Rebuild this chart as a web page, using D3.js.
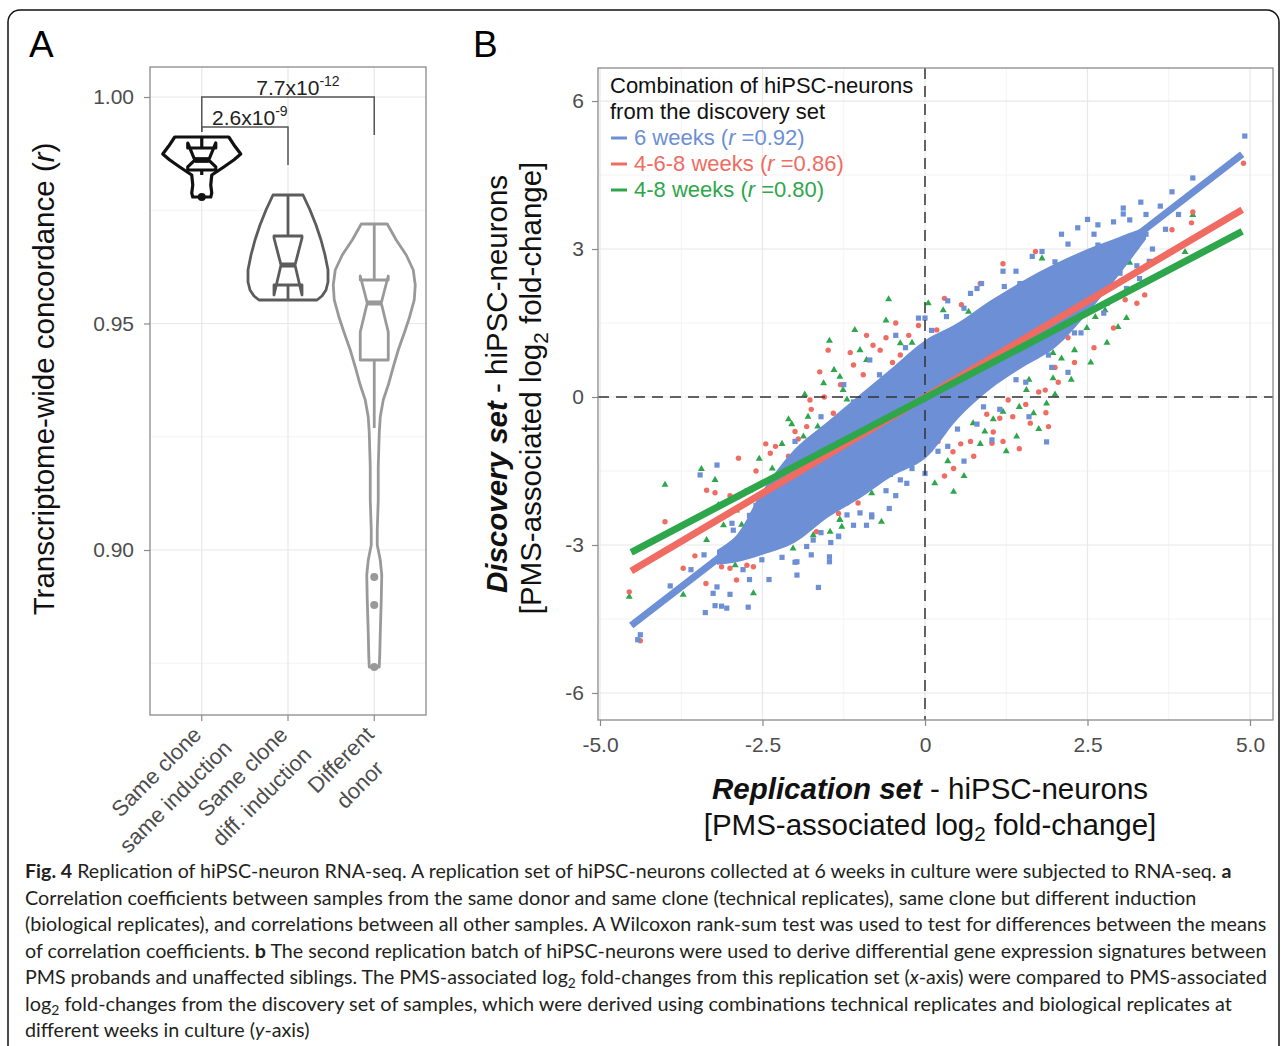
<!DOCTYPE html>
<html>
<head>
<meta charset="utf-8">
<script src="https://cdn.jsdelivr.net/npm/d3@7"></script>
<style>
body{margin:0;background:#fff}
svg text{font-family:"Liberation Sans",Arial,Helvetica,sans-serif}
</style>
</head>
<body>
<svg id="fig" width="1282" height="1046"></svg>
<script>
// ---------- panel A data ----------
var groupLines=[["Same clone","same induction"],["Same clone","diff. induction"],["Different","donor"]];
// violin outline: [value, relative density]
var violin1=[[0.99117,0.675],[0.98918,0.825],[0.98742,0.975],[0.98609,0.80],[0.98455,0.55],[0.98278,0.25],[0.98057,0.225],[0.97881,0.25],[0.97792,0.225]];
var violin2=[[0.97837,0.375],[0.97506,0.55],[0.97174,0.70],[0.96843,0.825],[0.96512,0.925],[0.96181,1.0],[0.95916,1.0],[0.95740,0.95],[0.95607,0.85],[0.95519,0.725]];
var violin3=[[0.97196,0.325],[0.96843,0.55],[0.96512,0.80],[0.96181,0.975],[0.95850,1.025],[0.95519,1.0],[0.95121,0.875],[0.94790,0.75],[0.94415,0.60],[0.94040,0.475],[0.93642,0.35],[0.93311,0.225],[0.92936,0.15],[0.92583,0.125],[0.91832,0.10],[0.91104,0.10],[0.90442,0.075],[0.90110,0.075],[0.89779,0.15],[0.89448,0.1875],[0.88896,0.175],[0.88168,0.15],[0.87682,0.1375],[0.87417,0.125]];
var whiskerLow=[0.98278,0.95519,0.92693];
var hingeLow=[0.98389,0.95850,0.94194];
var medians=[0.98609,0.96291,0.95453];
var hingeHigh=[0.98874,0.96932,0.95960];
var whiskerHigh=[0.99117,0.97837,0.97196];
var notchLow=[0.98455,0.95629,0.94812];
var notchHigh=[0.98985,0.96887,0.96049];
var outliers=[[0.97792],[],[0.89404,0.88786,0.87417]];
var yTicksA=[0.90,0.95,1.00];
var sigPairs=[[1,2],[1,3]];
var sigBar=[0.99338,1.00000];
var sigLegLeft=[0.99227,0.99227];
var sigLegRight=[0.98499,0.99161];
var sigMantissa=["2.6x10","7.7x10"];
var sigExponent=["-9","-12"];

// ---------- panel B data ----------
var xTicksB=[-5,-2.5,0,2.5,5];
var xTickLabelsB=["-5.0","-2.5","0","2.5","5.0"];
var yTicksB=[-6,-3,0,3,6];
var yTickLabelsB=["-6","-3","0","3","6"];
var seriesNames=["6 weeks","4-6-8 weeks","4-8 weeks"];
var seriesR=["0.92","0.86","0.80"];
var fitSlope=[1.016,0.779,0.692];
var fitIntercept=[-0.038,-0.005,-0.02];
var fitRange=[-4.52,4.88];
// dense core of the 6-week cloud
var coreX=[-3.2,-2.9,-2.5,-2.0,-1.5,-1.0,-0.5,0,0.5,1.0,1.5,2.0,2.5,3.0,3.4];
var coreHi=[-3.1,-2.8,-1.9,-1.05,-0.5,0.05,0.6,1.15,1.5,1.95,2.35,2.7,3.0,3.25,3.45];
var coreLo=[-3.4,-3.35,-3.2,-2.95,-2.45,-2.05,-1.6,-1.25,-0.45,0.15,0.6,1.0,1.7,2.5,3.2];
var pts6w=[[-4.38,-4.82],[-4.42,-4.92],[-3.92,-3.83],[-3.38,-4.37],[-3.23,-4.23],[-3.13,-4.24],[-3.05,-4.28],[-2.72,-4.26],[-3.26,-3.98],[-3.0,-4.0],[-1.97,-3.61],[-1.64,-3.86],[-1.47,-3.24],[-1.47,-3.34],[-1.33,-2.82],[-1.2,-2.39],[-0.82,-2.39],[-0.55,-2.26],[-3.46,-1.58],[-3.2,-1.38],[-2.97,-2.56],[-2.95,-2.7],[-2.49,-3.1],[-2.51,-3.3],[-2.36,-2.97],[-2.13,-2.7],[-1.97,-3.34],[-1.82,-3.03],[-1.72,-2.9],
[0.87,2.3],[1.46,2.3],[1.22,2.24],[1.87,-0.91],[1.03,-0.87],[0.33,1.63],[2.0,2.74],[-0.74,-1.62],[-0.82,-2.43],[-1.33,-2.83],[-0.38,-1.68],[-0.28,-1.75],
[4.92,5.29],[4.12,4.44],[3.8,4.16],[3.32,3.95],[3.05,3.83],[3.05,3.71],[3.15,3.59],[3.62,3.87],[2.35,3.43],[2.66,3.49],[2.66,3.08],[2.8,3.04],[3.03,3.14],[3.0,2.51],[3.26,2.66],
[-3.6,-3.5],[-3.4,-3.2],[-2.8,-3.5],[-2.6,-2.2],[-2.2,-1.7],[-1.8,-1.1],[-1.4,-0.6],[-1.1,-0.1],[-0.7,0.45],[-0.3,1.0],[0.1,1.35],[0.6,1.8],[1.4,2.55],[1.8,2.95],[2.2,3.1],[2.6,3.3],[3.4,3.3],[3.5,3.0],[3.3,2.4],[2.8,1.9],[2.3,1.3],[1.9,0.85],[1.4,0.35],[0.9,-0.2],[0.5,-0.65],[0.2,-1.1],[-0.2,-1.45],[-0.6,-1.9],[-1.0,-2.35],[-1.6,-2.75],[-2.2,-3.25],[-2.7,-3.7],[-3.2,-3.85],[0.6,-1.3],[-0.1,1.6],[0.7,2.1],[1.6,-0.4],[2.2,0.5],[2.5,3.6],[-2.0,-0.9],
[-2.4,-3.7],[-2.0,-3.35],[-1.75,-3.2],[-1.45,-2.95],[-1.1,-2.6],[-0.9,-2.6],[-0.45,-2.0],[0.0,-1.55],[0.35,-1.0],[0.8,-0.55],[1.15,-0.25],[1.55,0.3],[1.95,0.6],[2.4,1.3],[2.75,1.7],[3.1,2.2],[3.45,2.75],[3.7,3.4],[3.9,3.7],[-2.7,-2.4],[-2.35,-1.7],[-1.95,-1.2],[-1.6,-0.4],[-1.25,0.25],[-0.85,0.75],[-0.45,1.25],[0.0,1.6],[0.35,1.95],[0.8,2.2],[1.2,2.55],[1.65,2.85],[2.1,3.3],[2.9,3.55],[3.4,3.7]];
var pts468w=[[-4.55,-3.95],[-4.38,-4.94],[-4.0,-2.53],[-3.36,-1.89],[-3.23,-1.94],[-3.54,-3.22],[-3.72,-3.47],[-3.37,-3.78],[-3.13,-3.44],[-3.0,-3.47],[-2.9,-3.71],[-2.74,-3.41],[-2.64,-3.44],[-2.2,-2.73],[-2.13,-2.76],[-1.87,-2.53],[-1.67,-2.73],[-1.62,-2.46],[-1.33,-2.36],[-1.2,-2.15],[-1.03,-2.15],[-2.87,-1.24],[-2.38,-1.14],
[-1.49,0.95],[0.44,-1.45],[0.56,1.87],[0.85,2.3],[2.36,2.68],[1.85,0.14],[1.28,-0.06],[1.15,-0.43],[1.05,-0.71],[1.62,-0.53],[1.86,-0.32],[0.18,1.36],[-0.38,0.85],[-0.69,0.95],[-1.1,0.65],[-1.62,0.51],[-1.77,-0.06],[-1.82,-0.6],[-1.41,-0.33],[-0.74,-1.35],[-0.15,-1.31],[0.08,-1.07],[0.43,-1.11],[1.03,-0.94],[-1.28,-1.75],[-1.36,-2.15],[-1.59,-2.43],
[2.54,2.23],[2.78,2.33],[3.08,1.97],[3.26,1.9],[3.38,2.07],[3.15,2.92],[3.8,3.39],[4.1,3.53],[4.12,3.75],[4.9,4.74],
[-2.6,-1.5],[-2.45,-0.95],[-2.1,-1.2],[-1.95,-0.85],[-0.9,1.25],[-0.45,1.5],[0.3,2.0],[1.2,2.7],[1.7,2.95],[2.2,1.2],[2.0,0.6],[0.7,-0.9],
[-2.3,-1.0],[-2.0,-0.7],[-1.75,-0.25],[-1.55,0.0],[-1.3,0.25],[-1.15,0.9],[-0.95,0.45],[-0.8,1.05],[-0.6,1.2],[-0.5,0.7],[-0.25,1.25],[-0.1,1.45],[-2.15,-1.6],[-1.9,-1.3],[-2.75,-1.9],[-3.0,-2.0],[-2.5,-2.0],[-1.45,-0.9],[-1.65,-1.1],
[0.3,-1.6],[0.55,-0.95],[0.75,-1.2],[0.95,-0.35],[1.2,-0.9],[1.35,-0.4],[1.55,-0.15],[1.75,0.1],[2.05,0.3],[2.3,0.7],[2.6,1.0],[2.9,1.4],[0.2,-0.9],[1.9,-0.6],[1.45,-1.05]];
var pts48w=[[-4.55,-4.05],[-4.0,-1.78],[-3.72,-4.01],[-3.44,-1.46],[-3.36,-2.9],[-3.23,-1.68],[-3.18,-2.19],[-2.92,-3.41],[-2.82,-2.59],[-2.64,-3.98],[-2.49,-2.15],[-2.33,-2.83],[-2.03,-3.07],[-1.92,-2.19],[-1.72,-2.8],[-1.46,-2.73],[-1.31,-2.49],[-1.28,-2.63],[-1.0,-1.48],[-0.82,-1.95],[-0.67,-2.53],[-0.54,-1.58],
[-0.56,1.98],[-1.08,1.36],[-1.47,1.14],[0.44,-1.92],[1.87,-0.13],[1.97,0.38],[2.1,0.78],[0.74,-0.53],[0.92,-0.7],[1.41,-0.8],[1.67,-0.33],[1.56,0.14],[-0.18,-0.94],[-0.69,-1.04],[-0.38,1.09],[-0.9,0.75],[-1.31,0.41],[-1.56,0.28],[-1.26,0.14],[-1.87,-0.8],[-1.1,-1.75],[-1.31,-2.49],[0.28,1.76],[0.67,1.73],[1.8,2.81],
[4.12,3.69],[4.0,2.94],[3.31,3.22],[3.15,2.72],[2.97,1.42],[2.62,1.62],[2.49,1.4],[1.97,0.89],[2.77,1.76],
[-2.55,-1.25],[-2.2,-0.95],[-2.05,-0.55],[-1.8,-0.4],[-2.7,-1.9],[2.3,0.95],[1.2,-0.3],
[-2.35,-1.45],[-2.1,-0.45],[-1.85,0.05],[-1.65,-0.6],[-1.4,0.55],[-1.2,-0.05],[-1.0,0.95],[-0.75,0.2],[-0.6,1.55],[-0.35,0.55],[-0.2,1.1],[0.05,1.9],[-2.9,-2.3],[-2.6,-2.5],[-3.1,-2.6],[-1.95,-1.6],
[0.35,-1.3],[0.6,-1.6],[0.85,-0.95],[1.05,-0.45],[1.25,-1.1],[1.45,-0.2],[1.75,-0.65],[2.0,0.05],[2.25,0.35],[2.55,0.7],[2.8,1.1],[3.1,1.6],[0.15,-1.75],[1.6,0.35],[2.4,1.75]];

var captionLines=[
"**Fig. 4** Replication of hiPSC-neuron RNA-seq. A replication set of hiPSC-neurons collected at 6 weeks in culture were subjected to RNA-seq. **a**",
"Correlation coefficients between samples from the same donor and same clone (technical replicates), same clone but different induction",
"(biological replicates), and correlations between all other samples. A Wilcoxon rank-sum test was used to test for differences between the means",
"of correlation coefficients. **b** The second replication batch of hiPSC-neurons were used to derive differential gene expression signatures between",
"PMS probands and unaffected siblings. The PMS-associated log~2~ fold-changes from this replication set (_x_-axis) were compared to PMS-associated",
"log~2~ fold-changes from the discovery set of samples, which were derived using combinations technical replicates and biological replicates at",
"different weeks in culture (_y_-axis)"];
var captionEnds=[1232,1197,1267,1267,1267,1232,null];

// ---------- helpers ----------
var svg=d3.select("#fig");
var tickGrey="#4d4d4d", borderGrey="#8a8a8a";
var seriesColors=["#6d8fd5","#f06c63","#2ea64c"];
var groupColors=["#111111","#5c5c5c","#999999"];
var titleSize=29.5;

// **bold**  _italic_  ^^bold italic^^  ~sub~
function addRuns(t,str,fs){
  var parts=str.split(/(\*\*[^*]+\*\*|\^\^[^^]+\^\^|_[^_]+_|~[^~]+~)/).filter(function(s){return s.length;});
  var back=0;
  parts.forEach(function(p){
    var ts=t.append("tspan");
    if(back){ts.attr("dy",back);back=0;}
    if(p.indexOf("**")==0) ts.text(p.slice(2,-2)).attr("font-weight","bold");
    else if(p.indexOf("^^")==0) ts.text(p.slice(2,-2)).attr("font-weight","bold").attr("font-style","italic");
    else if(p.indexOf("_")==0) ts.text(p.slice(1,-1)).attr("font-style","italic");
    else if(p.indexOf("~")==0){ts.text(p.slice(1,-1)).attr("font-size",fs*0.7).attr("dy",fs*0.22);back=-fs*0.22;}
    else ts.text(p);
  });
}

// outer frame
svg.append("rect").attr("x",8).attr("y",10).attr("width",1271).attr("height",1060).attr("rx",12)
  .attr("fill","none").attr("stroke","#111").attr("stroke-width",1.5);

svg.append("text").attr("x",29).attr("y",57).attr("font-size",37).text("A");
svg.append("text").attr("x",473).attr("y",57).attr("font-size",37).text("B");

// ================= PANEL A =================
var gA=svg.append("g");
var xA=d3.scaleLinear().domain([0.4,3.6]).range([150,426]);
var yA=d3.scaleLinear().domain([0.863576,1.006623]).range([715,67]);

gA.selectAll(".gmin").data([0.875,0.925,0.975]).enter().append("line")
  .attr("x1",150).attr("x2",426).attr("y1",yA).attr("y2",yA).attr("stroke","#f3f3f3").attr("stroke-width",1);
gA.selectAll(".gmaj").data(yTicksA).enter().append("line")
  .attr("x1",150).attr("x2",426).attr("y1",yA).attr("y2",yA).attr("stroke","#e8e8e8").attr("stroke-width",1.2);
gA.selectAll(".gx").data([1,2,3]).enter().append("line")
  .attr("x1",xA).attr("x2",xA).attr("y1",67).attr("y2",715).attr("stroke","#e8e8e8").attr("stroke-width",1.2);

var axA=gA.append("g").attr("transform","translate(150,0)")
  .call(d3.axisLeft(yA).tickValues(yTicksA).tickFormat(d3.format(".2f")).tickSize(6).tickPadding(10));
axA.select(".domain").remove();
axA.selectAll("line").attr("stroke",borderGrey).attr("stroke-width",1.2);
axA.selectAll("text").attr("font-size",21).attr("fill",tickGrey).style("font-family","Liberation Sans, Arial, sans-serif");

gA.selectAll(".tx").data([1,2,3]).enter().append("line")
  .attr("x1",xA).attr("x2",xA).attr("y1",715).attr("y2",721).attr("stroke",borderGrey).attr("stroke-width",1.2);

// category labels
groupLines.forEach(function(lines,i){
  var g=gA.append("g").attr("transform","translate("+(xA(i+1)+1)+",736) rotate(-45)");
  var t1=g.append("text").attr("text-anchor","end").attr("font-size",22).attr("fill",tickGrey).text(lines[0]);
  var w1=t1.node().getComputedTextLength();
  g.append("text").attr("text-anchor","middle").attr("x",-w1/2-4).attr("y",31).attr("font-size",22).attr("fill",tickGrey).text(lines[1]);
});

var violinHalf=40, boxHalf=14;
var violins=[violin1,violin2,violin3];
var vline=d3.line().curve(d3.curveLinearClosed);
violins.forEach(function(prof,i){
  var c=xA(i+1), col=groupColors[i], sw=i==0?3.2:2.8;
  var right=prof.map(function(p){return [c+p[1]*violinHalf,yA(p[0])];});
  var left=prof.slice().reverse().map(function(p){return [c-p[1]*violinHalf,yA(p[0])];});
  gA.append("path").attr("d",vline(right.concat(left))).attr("fill","#fff")
    .attr("stroke",col).attr("stroke-width",sw).attr("stroke-linejoin","round");
  // whiskers
  gA.append("line").attr("x1",c).attr("x2",c).attr("y1",yA(hingeHigh[i])).attr("y2",yA(whiskerHigh[i]))
    .attr("stroke",col).attr("stroke-width",sw);
  gA.append("line").attr("x1",c).attr("x2",c).attr("y1",yA(hingeLow[i])).attr("y2",yA(whiskerLow[i]))
    .attr("stroke",col).attr("stroke-width",sw);
  // notched box
  var xl=c-boxHalf, xr=c+boxHalf, ind=boxHalf*0.5;
  var bp=[[xl,yA(hingeHigh[i])],[xl,yA(notchHigh[i])],[xl+ind,yA(medians[i])],[xl,yA(notchLow[i])],[xl,yA(hingeLow[i])],
          [xr,yA(hingeLow[i])],[xr,yA(notchLow[i])],[xr-ind,yA(medians[i])],[xr,yA(notchHigh[i])],[xr,yA(hingeHigh[i])]];
  gA.append("path").attr("d",d3.line()(bp)+"Z").attr("fill","#fff").attr("stroke",col).attr("stroke-width",sw).attr("stroke-linejoin","round");
  gA.append("line").attr("x1",xl+ind).attr("x2",xr-ind).attr("y1",yA(medians[i])).attr("y2",yA(medians[i]))
    .attr("stroke",col).attr("stroke-width",sw*1.8);
  gA.selectAll(".out"+i).data(outliers[i]).enter().append("circle")
    .attr("cx",c).attr("cy",yA).attr("r",4).attr("fill",col);
});

// significance brackets
sigPairs.forEach(function(pr,k){
  var x1=xA(pr[0]), x2=xA(pr[1]), yb=yA(sigBar[k]);
  gA.append("path").attr("d","M"+x1+","+yA(sigLegLeft[k])+"L"+x1+","+yb+"L"+x2+","+yb+"L"+x2+","+yA(sigLegRight[k]))
    .attr("fill","none").attr("stroke","#555").attr("stroke-width",1.5);
  var t=gA.append("text").attr("x",(x1+x2)/2+(k==0?5:10)).attr("y",yb-2).attr("text-anchor","middle")
    .attr("font-size",21).attr("fill","#222");
  t.append("tspan").text(sigMantissa[k]);
  t.append("tspan").attr("dy",-9).attr("font-size",14).text(sigExponent[k]);
});

gA.append("rect").attr("x",150).attr("y",67).attr("width",276).attr("height",648)
  .attr("fill","none").attr("stroke",borderGrey).attr("stroke-width",1.3);

var yt=gA.append("text").attr("transform","translate(54,379) rotate(-90)").attr("text-anchor","middle")
  .attr("font-size",titleSize).attr("fill","#111");
addRuns(yt,"Transcriptome-wide concordance (_r_)",titleSize);

// ================= PANEL B =================
var gB=svg.append("g");
var xB=d3.scaleLinear().domain([-5.0308,5.3538]).range([598,1273]);
var yB=d3.scaleLinear().domain([-6.5477,6.6695]).range([720,68]);

gB.selectAll(".gxm").data([-3.75,-1.25,1.25,3.75]).enter().append("line")
  .attr("x1",xB).attr("x2",xB).attr("y1",68).attr("y2",720).attr("stroke","#f3f3f3");
gB.selectAll(".gym").data([-4.5,-1.5,1.5,4.5]).enter().append("line")
  .attr("y1",yB).attr("y2",yB).attr("x1",598).attr("x2",1273).attr("stroke","#f3f3f3");
gB.selectAll(".gx").data(xTicksB).enter().append("line")
  .attr("x1",xB).attr("x2",xB).attr("y1",68).attr("y2",720).attr("stroke","#e8e8e8").attr("stroke-width",1.2);
gB.selectAll(".gy").data(yTicksB).enter().append("line")
  .attr("y1",yB).attr("y2",yB).attr("x1",598).attr("x2",1273).attr("stroke","#e8e8e8").attr("stroke-width",1.2);

// points: 4-8 weeks (triangles), 4-6-8 weeks (circles), 6 weeks core + squares
var tri=d3.symbol().type(d3.symbolTriangle).size(21);
gB.selectAll(".p48").data(pts48w).enter().append("path").attr("d",tri)
  .attr("transform",function(d){return "translate("+xB(d[0])+","+yB(d[1])+")";}).attr("fill",seriesColors[2]);
gB.selectAll(".p468").data(pts468w).enter().append("circle")
  .attr("cx",function(d){return xB(d[0]);}).attr("cy",function(d){return yB(d[1]);}).attr("r",2.7).attr("fill",seriesColors[1]);
var coreArea=d3.area().curve(d3.curveCatmullRom)
  .x(function(d,i){return xB(coreX[i]);}).y0(function(d,i){return yB(coreLo[i]);}).y1(function(d,i){return yB(coreHi[i]);});
gB.append("path").attr("d",coreArea(coreX)).attr("fill",seriesColors[0]);
var sq=5.2;
gB.selectAll(".p6").data(pts6w).enter().append("rect")
  .attr("x",function(d){return xB(d[0])-sq/2;}).attr("y",function(d){return yB(d[1])-sq/2;})
  .attr("width",sq).attr("height",sq).attr("fill",seriesColors[0]);

// reference lines
gB.append("line").attr("x1",xB(0)).attr("x2",xB(0)).attr("y1",68).attr("y2",720)
  .attr("stroke","#333").attr("stroke-width",1.5).attr("stroke-dasharray","11,7");
gB.append("line").attr("y1",yB(0)).attr("y2",yB(0)).attr("x1",598).attr("x2",1273)
  .attr("stroke","#333").attr("stroke-width",1.5).attr("stroke-dasharray","11,7");

// regression lines
[0,1,2].forEach(function(s){
  gB.append("line")
    .attr("x1",xB(fitRange[0])).attr("y1",yB(fitIntercept[s]+fitSlope[s]*fitRange[0]))
    .attr("x2",xB(fitRange[1])).attr("y2",yB(fitIntercept[s]+fitSlope[s]*fitRange[1]))
    .attr("stroke",seriesColors[s]).attr("stroke-width",7);
});

gB.append("rect").attr("x",598).attr("y",68).attr("width",675).attr("height",652)
  .attr("fill","none").attr("stroke",borderGrey).attr("stroke-width",1.3);

var axBy=gB.append("g").attr("transform","translate(598,0)")
  .call(d3.axisLeft(yB).tickValues(yTicksB).tickFormat(function(d,i){return yTickLabelsB[i];}).tickSize(6).tickPadding(8));
axBy.select(".domain").remove();
var axBx=gB.append("g").attr("transform","translate(0,720)")
  .call(d3.axisBottom(xB).tickValues(xTicksB).tickFormat(function(d,i){return xTickLabelsB[i];}).tickSize(6).tickPadding(11));
axBx.select(".domain").remove();
[axBy,axBx].forEach(function(a){
  a.selectAll("line").attr("stroke",borderGrey).attr("stroke-width",1.2);
  a.selectAll("text").attr("font-size",21).attr("fill",tickGrey).style("font-family","Liberation Sans, Arial, sans-serif");
});

// legend
var lg=gB.append("g");
lg.append("text").attr("x",610).attr("y",93).attr("font-size",22).attr("fill","#111").text("Combination of hiPSC-neurons");
lg.append("text").attr("x",610).attr("y",119).attr("font-size",22).attr("fill","#111").text("from the discovery set");
seriesNames.forEach(function(n,s){
  var y=145+26*s;
  lg.append("line").attr("x1",611).attr("x2",627).attr("y1",y-7).attr("y2",y-7).attr("stroke",seriesColors[s]).attr("stroke-width",3);
  var t=lg.append("text").attr("x",634).attr("y",y).attr("font-size",22).attr("fill",seriesColors[s]);
  addRuns(t,n+" (_r_ ="+seriesR[s]+")",22);
});

// axis titles
var xt1=svg.append("text").attr("x",930).attr("y",799).attr("text-anchor","middle").attr("font-size",titleSize).attr("fill","#111");
addRuns(xt1,"^^Replication set^^ - hiPSC-neurons",titleSize);
var xt2=svg.append("text").attr("x",930).attr("y",835).attr("text-anchor","middle").attr("font-size",titleSize).attr("fill","#111");
addRuns(xt2,"[PMS-associated log~2~ fold-change]",titleSize);
var yt1=svg.append("text").attr("transform","translate(507,384) rotate(-90)").attr("text-anchor","middle").attr("font-size",titleSize).attr("fill","#111");
addRuns(yt1,"^^Discovery set^^ - hiPSC-neurons",titleSize);
var yt2=svg.append("text").attr("transform","translate(541,388) rotate(-90)").attr("text-anchor","middle").attr("font-size",titleSize).attr("fill","#111");
addRuns(yt2,"[PMS-associated log~2~ fold-change]",titleSize);

// ================= CAPTION =================
var capScales=[];
captionLines.forEach(function(line,i){
  var t=svg.append("text").attr("font-size",19.5).attr("fill","#231f20").style("font-family","Lato, 'Open Sans', sans-serif");
  addRuns(t,line,19.5);
  var w=t.node().getComputedTextLength();
  var sc=captionEnds[i]?(captionEnds[i]-25)/w:d3.mean(capScales);
  capScales.push(sc);
  t.attr("transform","translate(25,"+(878+26.5*i)+") scale("+sc+",1)");
});
</script>
</body>
</html>
